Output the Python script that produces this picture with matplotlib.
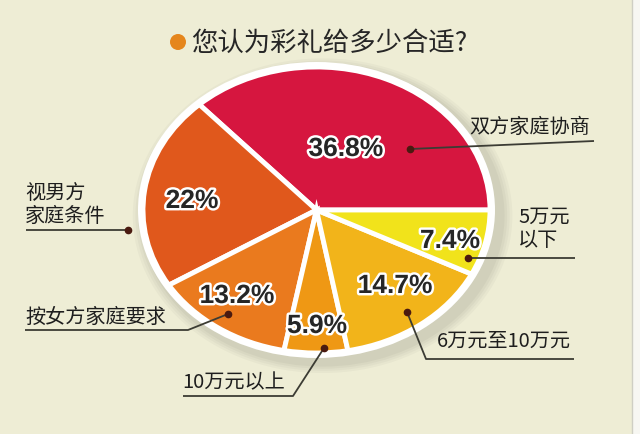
import matplotlib
matplotlib.use("Agg")
import matplotlib.pyplot as plt
import matplotlib.patheffects as pe
from matplotlib.patches import Ellipse, Circle, Rectangle

plt.rcParams['font.family'] = ['Noto Sans CJK SC', 'DejaVu Sans']

# DATA (counter-clockwise, starting at 3 o'clock)
categories = ['双方家庭协商', '视男方\n家庭条件', '按女方家庭要求', '10万元以上', '6万元至10万元', '5万元\n以下']
shares = [36.8, 22, 13.2, 5.9, 14.7, 7.4]
colors = ['#d6163f', '#e0581c', '#ea7a1e', '#ef9814', '#f2b41a', '#f1e31b']
title = '您认为彩礼给多少合适?'

# LAYOUT (pixels, origin top-left)
W, H = 640, 435
BG = '#eeedd5'
cx, cy, rx, ry = 316.5, 211, 173.5, 143
pct_pos = [(346, 150), (192, 202), (237, 297), (317, 327), (395, 287), (450, 242)]
dots = [(410, 150), (128, 231), (228, 315), (324, 349), (407, 313), (468, 259)]
leaders = [
    [(594, 142)],
    [(26, 231)],
    [(188, 331), (25, 331)],
    [(293, 397), (183, 397)],
    [(426, 360), (574, 360)],
    [(575, 259)],
]
label_pos = [(530, 127, 'center'), (25, 205, 'left'), (25, 317, 'left'),
             (182, 383, 'left'), (437, 341, 'left'), (518, 229, 'left')]

fig = plt.figure(figsize=(W / 100, H / 100), dpi=100, facecolor=BG)

# pie axes stretched to an ellipse
axp = fig.add_axes([(cx - rx) / W, (H - cy - ry) / H, 2 * rx / W, 2 * ry / H])
wedges, _ = axp.pie(shares, colors=colors, startangle=0, counterclock=True, radius=1,
                    wedgeprops=dict(edgecolor='white', linewidth=3.5))
axp.set_aspect('auto')
axp.set_xlim(-1, 1)
axp.set_ylim(-1, 1)
axp.axis('off')

# soft shadow + white rim
for k, a in enumerate([0.05, 0.05, 0.06, 0.07]):
    grow = 0.13 - k * 0.03
    axp.add_patch(Ellipse((0.035, -0.04), 2 * (178.5 / rx) + grow, 2 * (148 / ry) + grow,
                          fc='#6b6b60', ec='none', alpha=a, zorder=0, clip_on=False))
axp.add_patch(Ellipse((0, 0), 2 * 178.5 / rx, 2 * 148 / ry, fc='white', ec='none',
                      zorder=0.5, clip_on=False))

# overlay axes in pixel coordinates
ax = fig.add_axes([0, 0, 1, 1])
ax.set_xlim(0, W)
ax.set_ylim(H, 0)
ax.axis('off')

# right edge strip of the scan
ax.add_patch(Rectangle((632, 0), 8, H, fc='#f7f7f2', ec='none'))
ax.plot([632, 632], [0, H], color='#cfcfc4', lw=1)

# title
ax.add_patch(Circle((178, 43), 8, fc='#e5861c', ec='none'))
ax.text(191, 43, title, fontsize=19, color='#262626', va='center', ha='left')

# percentages
for (x, y), v in zip(pct_pos, shares):
    ax.text(x, y, f'{v:g}%', fontsize=19, fontweight='bold', family='Liberation Sans',
            color='#262626', ha='center', va='center',
            path_effects=[pe.withStroke(linewidth=3.5, foreground='white')])

# leader lines and labels
for (dx, dy), path, (lx, ly, ha), name in zip(dots, leaders, label_pos, categories):
    xs = [dx] + [p[0] for p in path]
    ys = [dy] + [p[1] for p in path]
    ax.plot(xs, ys, color='#3c3c34', lw=1.3, solid_capstyle='butt')
    ax.plot(dx, dy, 'o', ms=4.5, color='#4a1a10')
    ax.text(lx, ly, name, fontsize=14.5, color='#1e1e1e', ha=ha, va='center',
            linespacing=1.15, multialignment='left')

fig.savefig('out.png', dpi=100, facecolor=BG)
